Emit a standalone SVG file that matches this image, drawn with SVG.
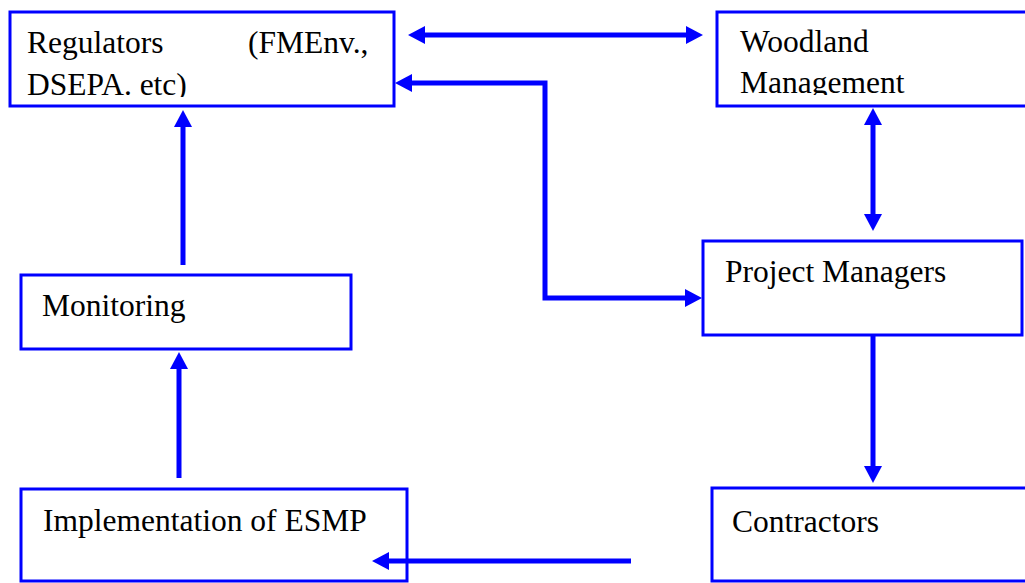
<svg xmlns="http://www.w3.org/2000/svg" width="1025" height="583" viewBox="0 0 1025 583">
  <style>
    .box { fill: #ffffff; stroke: #0000ff; stroke-width: 3; }
    .lbl { font-family: "Liberation Serif", "Times New Roman", serif; font-size: 31.5px; fill: #000000; }
    .con { fill: none; stroke: #0000ff; stroke-width: 5; stroke-linecap: butt; stroke-linejoin: miter; }
  </style>
  <defs>
    <marker id="ah" viewBox="0 0 17 18" markerWidth="17" markerHeight="18" markerUnits="userSpaceOnUse" refX="0" refY="9" orient="auto-start-reverse">
      <path d="M0,0 L17,9 L0,18 Z" fill="#0000ff"/>
    </marker>
    <clipPath id="clipReg"><rect x="12" y="13" width="380" height="84"/></clipPath>
    <clipPath id="clipWood"><rect x="719" y="13" width="306" height="82"/></clipPath>
  </defs>
  <rect width="1025" height="583" fill="#ffffff"/>

  <g id="regulators">
    <rect class="box" x="10" y="12" width="384" height="94"/>
    <g clip-path="url(#clipReg)">
      <text class="lbl" x="27" y="53">Regulators</text>
      <text class="lbl" x="248" y="53">(FMEnv.,</text>
      <text class="lbl" x="27" y="95">DSEPA. etc)</text>
    </g>
  </g>

  <g id="woodland">
    <rect class="box" x="717" y="12" width="330" height="94"/>
    <g clip-path="url(#clipWood)">
      <text class="lbl" x="740" y="52">Woodland</text>
      <text class="lbl" x="740" y="93">Management</text>
    </g>
  </g>

  <g id="project-managers">
    <rect class="box" x="703" y="241" width="319" height="94"/>
    <text class="lbl" x="725" y="282">Project Managers</text>
  </g>

  <g id="monitoring">
    <rect class="box" x="21" y="275" width="330" height="74"/>
    <text class="lbl" x="42" y="316">Monitoring</text>
  </g>

  <g id="implementation">
    <rect class="box" x="21" y="489" width="386" height="92"/>
    <text class="lbl" x="43" y="531">Implementation of ESMP</text>
  </g>

  <g id="contractors">
    <rect class="box" x="712" y="488" width="330" height="93"/>
    <text class="lbl" x="732" y="532">Contractors</text>
  </g>

  <g id="connectors">
    <path class="con" d="M425,35 L686,35" marker-start="url(#ah)" marker-end="url(#ah)"/>
    <path class="con" d="M412,83 L545,83 L545,298 L685,298" marker-start="url(#ah)" marker-end="url(#ah)"/>
    <path class="con" d="M183,265 L183,127" marker-end="url(#ah)"/>
    <path class="con" d="M179,478 L179,369" marker-end="url(#ah)"/>
    <path class="con" d="M873,125 L873,214" marker-start="url(#ah)" marker-end="url(#ah)"/>
    <path class="con" d="M873,335 L873,466" marker-end="url(#ah)"/>
    <path class="con" d="M631,561 L389,561" marker-end="url(#ah)"/>
  </g>
</svg>
